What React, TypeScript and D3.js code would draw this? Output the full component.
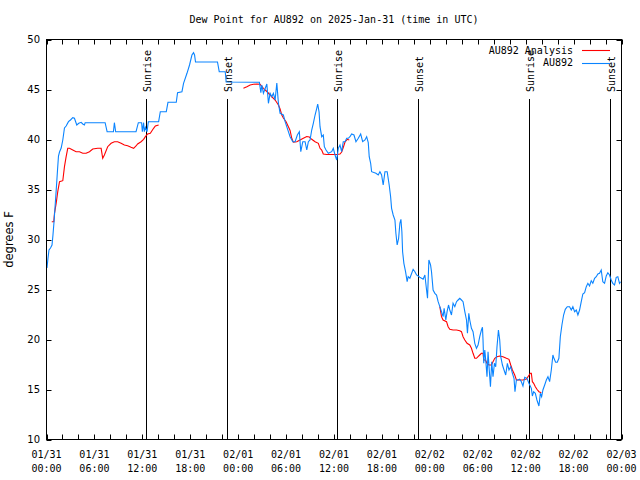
import React from "react";
import * as d3 from "d3";

// hours since 2025-01-31 00:00 UTC
const stationTimes = [
  0.06, 0.19, 0.31, 0.5, 0.69, 0.81, 0.94, 1.13, 1.25, 1.38, 1.5, 1.63, 1.84, 2.04, 2.25, 2.46, 2.75, 3.0, 3.29, 3.5,
  3.79, 4.04, 4.34, 4.54, 4.75, 4.84, 7.34, 7.59, 8.38, 8.5, 8.66, 11.21, 11.5, 11.91, 12.0, 12.16, 12.25, 12.38, 12.59, 12.75,
  14.04, 14.25, 15.0, 15.21, 16.25, 16.41, 16.96, 17.16, 17.59, 17.91, 18.21, 18.41, 18.54, 18.66, 21.41, 21.63, 22.38, 22.5, 26.66, 26.84,
  26.96, 27.16, 27.59, 27.79, 28.0, 28.21, 28.41, 28.63, 28.84, 29.04, 29.25, 29.66, 29.88, 30.29, 30.5, 30.84, 31.13, 31.41, 31.66, 31.84,
  32.09, 32.38, 32.59, 32.79, 33.0, 33.21, 33.41, 33.63, 33.84, 33.96, 34.13, 34.25, 34.46, 34.66, 34.79, 35.0, 35.29, 35.71, 35.91, 36.13,
  36.34, 36.54, 36.75, 36.96, 37.16, 37.38, 37.59, 37.79, 38.0, 38.21, 38.5, 38.75, 39.04, 39.34, 39.59, 39.88, 40.09, 40.29, 40.41, 40.59,
  40.71, 41.25, 41.54, 41.75, 41.96, 42.16, 42.38, 42.66, 42.91, 43.09, 43.21, 43.41, 43.63, 43.75, 43.91, 44.09, 44.25, 44.38, 44.5, 44.59,
  44.75, 44.96, 45.16, 45.29, 45.5, 45.91, 46.13, 46.34, 46.75, 47.16, 47.38, 47.59, 47.71, 47.88, 48.09, 48.21, 48.41, 48.63, 48.84, 49.04,
  49.25, 49.46, 49.66, 49.79, 50.0, 50.16, 50.34, 50.5, 50.71, 50.91, 51.13, 51.34, 51.54, 51.75, 51.96, 52.16, 52.38, 52.59, 52.71, 52.88,
  53.0, 53.21, 53.41, 53.63, 53.84, 54.04, 54.25, 54.46, 54.59, 54.66, 54.75, 54.88, 55.0, 55.16, 55.29, 55.41, 55.59, 55.75, 55.91, 56.09,
  56.25, 56.41, 56.59, 56.75, 56.88, 57.09, 57.29, 57.5, 57.71, 57.91, 58.13, 58.34, 58.54, 58.66, 58.84, 59.04, 59.25, 59.46, 59.66, 59.88,
  60.16, 60.41, 60.71, 60.84, 61.0, 61.21, 61.41, 61.66, 61.84, 62.0, 62.16, 62.38, 62.59, 62.79, 63.0, 63.21, 63.41, 63.54, 63.75, 63.96,
  64.16, 64.34, 64.54, 64.75, 64.96, 65.21, 65.5, 65.71, 65.91, 66.13, 66.34, 66.54, 66.75, 66.96, 67.16, 67.38, 67.59, 67.79, 68.0, 68.21,
  68.41, 68.63, 68.84, 69.04, 69.25, 69.46, 69.66, 69.88, 70.09, 70.29, 70.5, 70.71, 70.91, 71.13, 71.34, 71.54, 71.75, 71.88,
];
const stationDew = [
  27.15, 28.15, 28.95, 29.15, 29.45, 30.45, 31.75, 33.95, 35.35, 36.95, 38.35, 38.75, 39.15, 39.95, 41.15, 41.35, 41.78, 41.95, 42.18, 42.12,
  41.45, 41.62, 41.72, 41.55, 41.45, 41.68, 41.68, 40.78, 40.78, 41.68, 40.78, 40.78, 41.68, 41.68, 40.78, 41.68, 40.78, 41.22, 40.78, 41.78,
  41.78, 42.78, 42.78, 43.72, 43.72, 44.68, 44.78, 45.62, 46.62, 47.45, 48.45, 48.68, 48.45, 47.75, 47.75, 46.78, 46.78, 45.75, 45.72, 44.68,
  45.45, 44.62, 45.55, 43.62, 44.62, 44.28, 44.62, 43.95, 45.65, 43.62, 42.62, 42.45, 41.78, 40.78, 40.28, 39.78, 39.78, 40.45, 40.78, 38.78,
  39.78, 39.78, 38.95, 39.78, 39.95, 40.95, 41.62, 42.45, 43.12, 43.55, 42.75, 41.28, 40.28, 40.45, 39.28, 38.95, 38.62, 38.78, 39.12, 38.45,
  37.95, 39.12, 39.45, 38.78, 39.78, 39.78, 40.12, 40.12, 40.28, 40.55, 40.45, 39.78, 40.12, 40.55, 39.78, 39.95, 40.28, 39.68, 38.28, 37.62,
  36.78, 36.62, 36.45, 36.78, 36.45, 35.45, 36.78, 36.78, 35.45, 34.28, 33.12, 32.45, 31.95, 30.62, 29.45, 30.12, 31.62, 32.02, 30.78, 28.78,
  27.62, 26.78, 25.78, 26.28, 26.12, 27.02, 26.78, 26.45, 26.22, 26.02, 26.45, 24.95, 24.12, 27.95, 27.45, 26.78, 24.95, 24.62, 24.45, 23.78,
  23.28, 22.78, 22.28, 23.12, 21.95, 22.78, 23.45, 22.95, 22.45, 23.62, 23.28, 23.78, 23.95, 24.12, 23.95, 23.78, 22.78, 21.95, 20.62, 22.62,
  21.95, 21.12, 20.78, 19.62, 19.12, 19.45, 20.28, 20.95, 21.22, 19.95, 17.62, 18.95, 17.95, 16.28, 18.78, 17.28, 15.28, 17.78, 16.28, 17.62,
  17.28, 19.28, 20.95, 19.95, 18.28, 17.45, 16.95, 16.45, 17.62, 16.95, 17.28, 16.62, 16.12, 14.78, 15.95, 15.95, 16.02, 15.78, 15.35, 16.22,
  16.12, 15.62, 15.12, 14.35, 14.78, 14.62, 13.95, 13.35, 14.62, 14.28, 14.95, 15.45, 15.95, 16.28, 15.78, 16.95, 18.45, 18.12, 17.72, 17.72,
  18.12, 20.28, 21.45, 22.45, 23.02, 23.28, 23.28, 22.95, 23.28, 22.78, 22.95, 22.45, 22.95, 23.78, 24.55, 24.68, 25.28, 25.62, 25.35, 25.88,
  25.62, 26.12, 26.28, 26.55, 26.62, 26.95, 25.78, 25.62, 26.35, 26.68, 26.45, 25.95, 25.62, 25.45, 26.22, 26.28, 25.62, 25.78,
];

// analysis series; null marks a gap between segments
const analysisTimes = [
  0.66, 0.91, 1.0, 1.21, 1.41, 1.63, 2.04, 2.25, 2.46, 2.66, 2.88, 3.29, 3.71, 4.13, 4.54, 4.96, 5.38, 5.79, 6.41, 6.84,
  7.04, 7.25, 7.66, 8.09, 8.5, 8.91, 9.34, 9.75, 10.16, 10.59, 10.91, 11.21, 11.41, 11.84, 12.16, 12.38, 12.66, 13.0, 13.41, 13.63,
  14.04, null,
  24.66, 25.09, 25.5, 25.91, 26.34, 26.75, 27.16, 27.59, 28.0, 28.63, 29.04, 29.25, 29.46, 29.66, 30.0, 30.29, 30.5, 30.71, 30.91, 31.34,
  31.75, 32.16, 32.59, 32.91, 33.21, 33.63, 34.04, 34.25, 34.46, 34.66, 35.09, 35.71, 36.34, 36.75, 36.96, 37.16, 37.38, 37.66, 37.91, null,
  49.25, 49.46, 49.66, 50.09, 50.29, 50.5, 50.91, 51.34, 51.75, 51.96, 52.16, 52.38, 52.66, 53.0, 53.21, 53.41, 53.63, 53.84, 54.04, 54.25,
  54.46, 54.66, 54.75, 54.96, 55.16, 55.41, 55.71, 55.91, 56.13, 56.41, 56.75, 57.16, 57.59, 57.91, 58.13, 58.34, 58.63, 58.84, 59.25, 59.66,
  60.09, 60.29, 60.59, 60.71, 60.84, 61.0, 61.21, 61.41, 61.66, 61.96,
];
const analysisDew = [
  31.78, 31.78, 32.62, 33.62, 34.78, 35.78, 35.88, 37.28, 38.28, 39.12, 39.12, 38.95, 38.78, 38.78, 38.62, 38.62, 38.78, 39.05, 39.12, 39.12,
  38.12, 38.45, 39.28, 39.62, 39.78, 39.78, 39.62, 39.45, 39.38, 39.22, 39.12, 39.35, 39.55, 39.78, 40.02, 40.28, 40.55, 40.62, 41.12, 41.35,
  41.45, null,
  45.12, 45.28, 45.45, 45.52, 45.55, 45.52, 45.12, 44.8, 44.45, 43.95, 43.45, 43.05, 42.45, 42.15, 41.78, 41.28, 40.9, 40.12, 39.73, 39.78,
  39.95, 40.12, 40.3, 40.25, 40.02, 39.78, 39.62, 39.12, 38.95, 38.55, 38.5, 38.5, 38.5, 38.55, 38.75, 39.2, 39.75, 40.02, 39.95, null,
  23.28, 22.28, 21.95, 21.78, 21.28, 21.02, 20.95, 20.95, 20.88, 20.78, 20.28, 19.95, 19.62, 19.45, 19.12, 18.62, 18.12, 18.12, 18.28, 18.45,
  18.62, 18.62, 17.95, 17.95, 17.62, 17.45, 17.45, 17.78, 18.12, 18.28, 18.35, 18.28, 18.12, 18.02, 17.45, 16.95, 16.45, 15.95, 15.95, 15.95,
  16.05, 16.28, 16.62, 16.62, 15.78, 15.62, 15.28, 15.02, 14.78, 14.68,
];

const sunTimes = [12.42, 22.55, 36.42, 46.55, 60.38, 70.55];
const sunLabels = ["Sunrise", "Sunset", "Sunrise", "Sunset", "Sunrise", "Sunset"];

const xTickHours = [0, 6, 12, 18, 24, 30, 36, 42, 48, 54, 60, 66, 72];
const xTickDates = ["01/31", "01/31", "01/31", "01/31", "02/01", "02/01", "02/01", "02/01", "02/02", "02/02", "02/02", "02/02", "02/03"];
const xTickClock = ["00:00", "06:00", "12:00", "18:00", "00:00", "06:00", "12:00", "18:00", "00:00", "06:00", "12:00", "18:00", "00:00"];
const xMinorHours = d3.range(0, 73, 2);
const yTicks = [10, 15, 20, 25, 30, 35, 40, 45, 50];

const seriesNames = ["AU892 Analysis", "AU892"];
const seriesColors = ["#ff0000", "#0a84ff"];

const MONO = "'DejaVu Sans Mono', monospace";
const SANS = "'DejaVu Sans', sans-serif";

export default function App() {
  const W = 640, H = 480;
  const left = 46.5, right = 621.5, top = 39.5, bottom = 439.5;
  const x = d3.scaleLinear().domain([0, 72]).range([left, right]);
  const y = d3.scaleLinear().domain([10, 50]).range([bottom, top]);

  type P = { t: number | null; v: number | null };
  const station: P[] = stationTimes.map((t, i) => ({ t, v: stationDew[i] }));
  const analysis: P[] = analysisTimes.map((t, i) => ({ t, v: analysisDew[i] }));
  const line = d3
    .line<P>()
    .defined((d) => d.t != null && d.v != null)
    .x((d) => x(d.t as number))
    .y((d) => y(d.v as number));

  const tickLen = 5;

  return (
    <svg width={W} height={H} style={{ position: "absolute", left: 0, top: 0, background: "#fff" }}>
      <rect x={0} y={0} width={W} height={H} fill="#fff" />
      {/* title */}
      <text x={(left + right) / 2} y={23} textAnchor="middle" fontFamily={MONO} fontSize={10} fill="#000">
        Dew Point for AU892 on 2025-Jan-31 (time in UTC)
      </text>

      {/* x ticks */}
      {xMinorHours.map((h) => (
        <g key={"xt" + h}>
          <line x1={Math.round(x(h)) + 0.5} x2={Math.round(x(h)) + 0.5} y1={bottom} y2={bottom - tickLen} stroke="#000" />
          <line x1={Math.round(x(h)) + 0.5} x2={Math.round(x(h)) + 0.5} y1={top} y2={top + tickLen} stroke="#000" />
        </g>
      ))}
      {xTickHours.map((h, i) => (
        <g key={"xl" + h}>
          <text x={x(h)} y={458} textAnchor="middle" fontFamily={MONO} fontSize={10} fill="#000">
            {xTickDates[i]}
          </text>
          <text x={x(h)} y={472} textAnchor="middle" fontFamily={MONO} fontSize={10} fill="#000">
            {xTickClock[i]}
          </text>
        </g>
      ))}

      {/* y ticks */}
      {yTicks.map((v) => (
        <g key={"yt" + v}>
          <line x1={left} x2={left + tickLen} y1={Math.round(y(v)) + 0.5} y2={Math.round(y(v)) + 0.5} stroke="#000" />
          <line x1={right} x2={right - tickLen} y1={Math.round(y(v)) + 0.5} y2={Math.round(y(v)) + 0.5} stroke="#000" />
          <text x={40} y={y(v)} dy="0.36em" textAnchor="end" fontFamily={SANS} fontSize={10} fill="#000">
            {v}
          </text>
        </g>
      ))}

      <text
        transform={`translate(13, ${(top + bottom) / 2}) rotate(-90)`}
        textAnchor="middle"
        fontFamily={SANS}
        fontSize={11.5}
        fill="#000"
      >
        degrees F
      </text>

      {/* sunrise / sunset markers */}
      {sunTimes.map((t, i) => {
        const sx = Math.round(x(t)) + 0.5;
        return (
          <g key={"sun" + i}>
            <line x1={sx} x2={sx} y1={99} y2={bottom} stroke="#000" />
            <text
              transform={`translate(${sx}, 92) rotate(-90)`}
              dy={4.5}
              textAnchor="start"
              fontFamily={MONO}
              fontSize={10}
              fill="#000"
            >
              {sunLabels[i]}
            </text>
          </g>
        );
      })}

      {/* data */}
      <path d={line(analysis) || ""} fill="none" stroke={seriesColors[0]} strokeWidth={1.1} />
      <path d={line(station) || ""} fill="none" stroke={seriesColors[1]} strokeWidth={1.1} />

      {/* legend */}
      {seriesNames.map((n, i) => {
        const ly = 50 + i * 12.5;
        return (
          <g key={"lg" + i}>
            <text x={573} y={ly} dy="0.35em" textAnchor="end" fontFamily={MONO} fontSize={10} fill="#000">
              {n}
            </text>
            <line x1={582} x2={610} y1={Math.round(ly) + 0.5} y2={Math.round(ly) + 0.5} stroke={seriesColors[i]} strokeWidth={1.1} />
          </g>
        );
      })}

      {/* frame */}
      <rect x={left} y={top} width={right - left} height={bottom - top} fill="none" stroke="#000" />
    </svg>
  );
}
